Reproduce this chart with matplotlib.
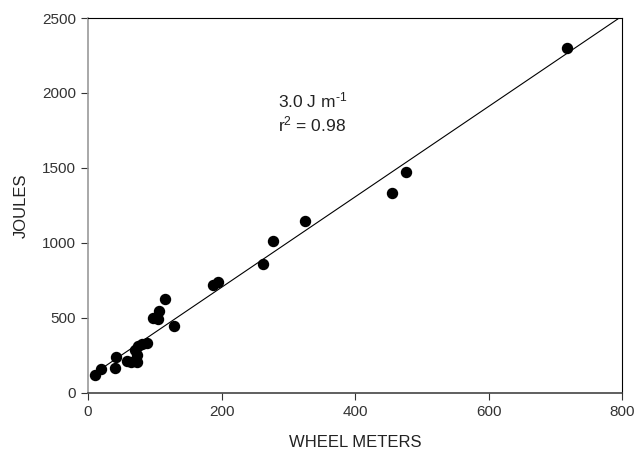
import numpy as np
import matplotlib.pyplot as plt

plt.rcParams['font.family'] = ['Liberation Sans', 'DejaVu Sans']
plt.rcParams['mathtext.fontset'] = 'custom'
plt.rcParams['mathtext.rm'] = 'Liberation Sans'
plt.rcParams['mathtext.it'] = 'Liberation Sans'

# wheel running distance (m) and energy (J)
wheel_m = [10, 19, 40, 42, 59, 65, 73, 70, 73, 75, 81, 88, 97, 105, 106, 116,
           129, 187, 195, 262, 277, 325, 455, 476, 718]
joules = [120, 158, 164, 238, 209, 205, 207, 287, 253, 309, 325, 335, 500, 493,
          547, 627, 447, 720, 736, 860, 1013, 1147, 1333, 1473, 2300]

slope_label = '3.0 J m$^{\\mathrm{\u2010}1}$'
r2_label = 'r$^{2}$ = 0.98'

fig = plt.figure(figsize=(6.38, 4.51), dpi=100)
ax = fig.add_axes([0.138, 0.129, 0.837, 0.831])

ax.plot(wheel_m, joules, 'o', color='black', markersize=7.2)

coef = np.polyfit(wheel_m, joules, 1)
xl = np.array([5, 800])
ax.plot(xl, np.polyval(coef, xl), color='black', linewidth=0.8)

ax.text(285, 1953, slope_label, fontsize=12.5, ha='left', va='center', color='#222222')
ax.text(285, 1787, r2_label, fontsize=12.5, ha='left', va='center', color='#222222')

ax.set_xlim(0, 800)
ax.set_ylim(0, 2500)
ax.set_xticks([0, 200, 400, 600, 800])
ax.set_yticks([0, 500, 1000, 1500, 2000, 2500])
ax.tick_params(direction='out', length=5, labelsize=11, colors='#333333')
ax.spines['left'].set_color('#999999')
ax.spines['bottom'].set_color('#444444')
ax.spines['left'].set_linewidth(1.2)
ax.spines['bottom'].set_linewidth(1.2)

ax.set_xlabel('WHEEL METERS', fontsize=12, color='#222222', labelpad=12)
ax.set_ylabel('JOULES', fontsize=12, color='#222222', labelpad=10)

fig.savefig('out.png', dpi=100)
